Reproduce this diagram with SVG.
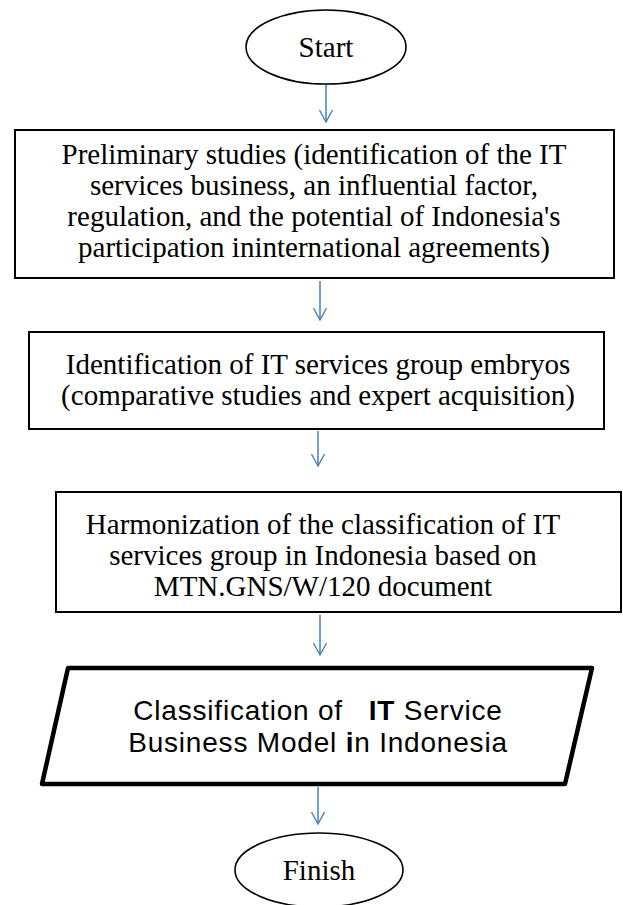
<svg xmlns="http://www.w3.org/2000/svg" width="623" height="905" viewBox="0 0 623 905">
  <defs>
    <marker id="arrow" viewBox="0 0 14 14" refX="13" refY="7" markerWidth="14" markerHeight="14" markerUnits="userSpaceOnUse" orient="auto">
      <path d="M1 0.5 L13 7 L1 13.5" fill="none" stroke="#4a7ebb" stroke-width="1.4"/>
    </marker>
  </defs>
  <style>
    .term { fill: #fff; stroke: #000; stroke-width: 1.6; }
    .proc { fill: #fff; stroke: #000; stroke-width: 2; }
    .io { fill: #fff; stroke: #000; stroke-width: 4.5; stroke-linejoin: round; }
    .serif { font-family: "Liberation Serif", "Times New Roman", serif; font-size: 29px; fill: #000; text-anchor: middle; }
    .sans { font-family: "Liberation Sans", Arial, sans-serif; font-size: 28px; letter-spacing: 0.8px; fill: #000; text-anchor: middle; white-space: pre; }
    .edge { stroke: #4a7ebb; stroke-width: 1.5; fill: none; marker-end: url(#arrow); }
  </style>
  <rect width="623" height="905" fill="#fff"/>

  <g id="edges">
    <line class="edge" x1="326" y1="84" x2="326" y2="122"/>
    <line class="edge" x1="320" y1="281" x2="320" y2="320"/>
    <line class="edge" x1="318" y1="431" x2="318" y2="466"/>
    <line class="edge" x1="320" y1="615" x2="320" y2="655"/>
    <line class="edge" x1="318" y1="787" x2="318" y2="824"/>
  </g>

  <g id="start">
    <ellipse class="term" cx="326" cy="47" rx="80" ry="37"/>
    <text class="serif" x="326" y="57">Start</text>
  </g>

  <g id="preliminary">
    <rect class="proc" x="15" y="130" width="599" height="148"/>
    <text class="serif" x="314" y="164">Preliminary studies (identification of the IT</text>
    <text class="serif" x="314" y="195">services business, an influential factor,</text>
    <text class="serif" x="314" y="226">regulation, and the potential of Indonesia's</text>
    <text class="serif" x="314" y="257">participation ininternational agreements)</text>
  </g>

  <g id="embryos">
    <rect class="proc" x="29" y="332" width="575" height="97"/>
    <text class="serif" x="318" y="374">Identification of IT services group embryos</text>
    <text class="serif" x="318" y="405">(comparative studies and expert acquisition)</text>
  </g>

  <g id="harmonization">
    <rect class="proc" x="56" y="492" width="565" height="120"/>
    <text class="serif" x="323" y="534">Harmonization of the classification of IT</text>
    <text class="serif" x="323" y="565">services group in Indonesia based on</text>
    <text class="serif" x="323" y="596">MTN.GNS/W/120 document</text>
  </g>

  <g id="classification">
    <polygon class="io" points="68,668 592,668 565,784 42,784"/>
    <text class="sans" x="318" y="720">Classification of   <tspan font-weight="bold">IT</tspan> Service</text>
    <text class="sans" x="318" y="752">Business Model <tspan font-weight="bold">i</tspan>n Indonesia</text>
  </g>

  <g id="finish">
    <ellipse class="term" cx="319" cy="870" rx="84" ry="37"/>
    <text class="serif" x="319" y="880">Finish</text>
  </g>
</svg>
